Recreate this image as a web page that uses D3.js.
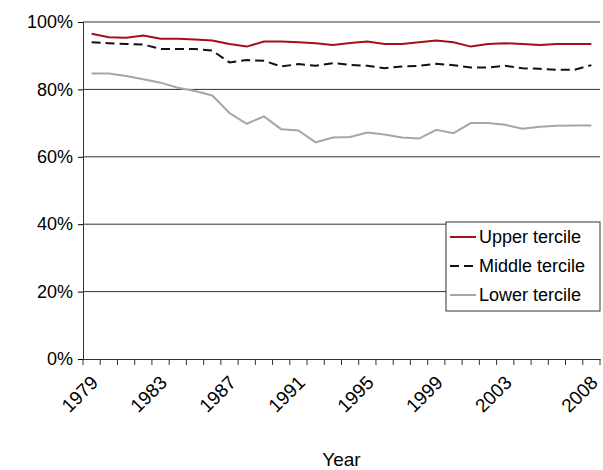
<!DOCTYPE html>
<html><head><meta charset="utf-8">
<script src="https://cdn.jsdelivr.net/npm/d3@7"></script>
<style>body{margin:0;background:#fff}text{font-family:"Liberation Sans",Arial,sans-serif}</style>
</head><body><svg id="c" width="603" height="470"></svg>
<script>
const years = d3.range(1979, 2009);
const tickYears = [1979, 1983, 1987, 1991, 1995, 1999, 2003, 2008];
const upper = [96.5,95.5,95.3,96,95,95,94.8,94.5,93.5,92.7,94.2,94.2,94,93.7,93.2,93.8,94.2,93.5,93.5,94,94.5,94,92.7,93.5,93.7,93.5,93.2,93.5,93.5,93.5];
const middle = [94,93.7,93.5,93.3,92,92,92,91.5,88,88.7,88.5,86.8,87.5,87,87.8,87.3,87,86.3,86.8,87,87.6,87.2,86.5,86.5,87,86.3,86.1,85.8,85.8,87.2];
const lower = [84.7,84.7,84,83,82,80.5,79.5,78.2,73,69.8,72,68.2,67.8,64.3,65.7,65.9,67.2,66.6,65.7,65.4,68,67,70,70,69.5,68.3,68.9,69.2,69.3,69.3];
const series = [
  {name: 'Upper tercile', values: upper, color: '#a50f15', dash: null},
  {name: 'Middle tercile', values: middle, color: '#111', dash: '9,5'},
  {name: 'Lower tercile', values: lower, color: '#a6a6a6', dash: null}
];

const svg = d3.select('#c');
const L = 83, R = 600, T = 22, B = 359;
const x = d3.scaleBand().domain(years).range([L, R]);
const y = d3.scaleLinear().domain([0, 100]).range([B, T]);

// gridlines
svg.append('g').selectAll('line').data(d3.range(20, 101, 20)).join('line')
  .attr('x1', L).attr('x2', R).attr('y1', d => y(d)).attr('y2', d => y(d))
  .attr('stroke', '#333').attr('stroke-width', 1);

const yAxis = svg.append('g').attr('transform', `translate(${L},0)`)
  .call(d3.axisLeft(y).tickValues(d3.range(0, 101, 20)).tickFormat(d => d + '%').tickSize(5));
yAxis.select('.domain').attr('stroke', '#333');
yAxis.selectAll('text').attr('font-size', 18).attr('fill', '#000').attr('dx', -2);

// category-boundary ticks
svg.append('g').selectAll('line').data(d3.range(years.length + 1)).join('line')
  .attr('x1', i => L + i * x.step()).attr('x2', i => L + i * x.step())
  .attr('y1', B).attr('y2', B + 6).attr('stroke', '#333');

const xAxis = svg.append('g').attr('transform', `translate(0,${B})`)
  .call(d3.axisBottom(x).tickValues(tickYears).tickSize(0).tickSizeOuter(0));
xAxis.select('.domain').attr('stroke', '#333');
xAxis.selectAll('text').attr('font-size', 19).attr('fill', '#000')
  .attr('text-anchor', 'end').attr('x', 0).attr('y', 0).attr('dy', '0.35em')
  .attr('transform', 'translate(3,20) rotate(-45)');

svg.append('text').attr('x', (L + R) / 2).attr('y', 466).attr('text-anchor', 'middle')
  .attr('font-size', 19).text('Year');

const line = d3.line().x((d, i) => x(years[i]) + x.bandwidth() / 2).y(d => y(d));
svg.append('g').selectAll('path').data(series).join('path')
  .attr('d', d => line(d.values)).attr('fill', 'none')
  .attr('stroke', d => d.color).attr('stroke-width', 2)
  .attr('stroke-dasharray', d => d.dash);

// legend
const lg = svg.append('g').attr('transform', 'translate(446,222)');
lg.append('rect').attr('width', 154).attr('height', 89).attr('fill', '#fff').attr('stroke', '#333');
series.forEach((s, i) => {
  const yy = 15 + i * 29;
  lg.append('line').attr('x1', 4).attr('x2', 30).attr('y1', yy).attr('y2', yy)
    .attr('stroke', s.color).attr('stroke-width', 2).attr('stroke-dasharray', s.dash);
  lg.append('text').attr('x', 33).attr('y', yy + 6).attr('font-size', 18).text(s.name);
});
</script></body></html>
